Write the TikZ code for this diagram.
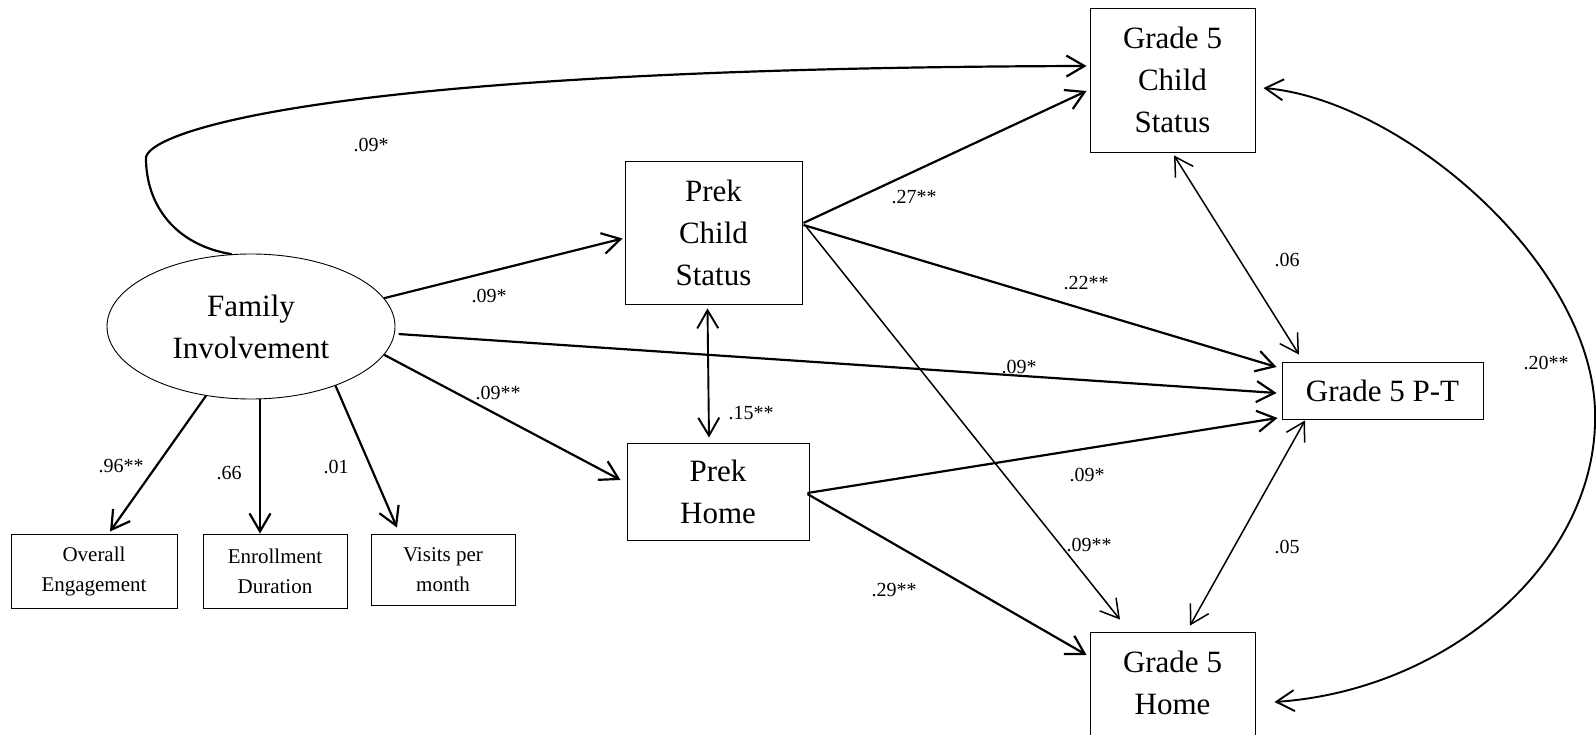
\documentclass[tikz,border=0pt]{standalone}
\usepackage{fontspec}
\setmainfont{Liberation Serif}
\usetikzlibrary{arrows.meta,shapes.geometric,calc}
\begin{document}
\begin{tikzpicture}[x=1pt,y=-1pt,
  >={Straight Barb[length=18pt,width=21pt]},
  big/.style={draw,line width=0.9pt,inner sep=0pt,align=center,font=\fontsize{31}{42}\selectfont},
  small/.style={draw,line width=0.9pt,inner sep=0pt,align=center,font=\fontsize{21}{30}\selectfont},
  coef/.style={inner sep=0pt,font=\fontsize{20}{24}\selectfont},
  arr/.style={line width=2.2pt,->},
  midarr/.style={line width=1.9pt},
  thinarr/.style={line width=1.5pt}]
\path[use as bounding box,clip] (0,0) rectangle (1596,735);

% nodes
\node[ellipse,draw,line width=0.9pt,minimum width=288pt,minimum height=145pt,inner sep=0pt,align=center,font=\fontsize{31}{42}\selectfont] (fi) at (251,326.5) {Family\\Involvement};
\node[big,minimum width=177pt,minimum height=143pt] (pcs) at (713.5,232.5) {Prek\\Child\\Status};
\node[big,minimum width=182pt,minimum height=97pt] (ph) at (718,491.5) {Prek\\Home};
\node[big,minimum width=165pt,minimum height=144pt] (g5cs) at (1172.5,80) {Grade 5\\Child\\Status};
\node[big,minimum width=201pt,minimum height=57pt] (pt) at (1382.5,390.5) {Grade 5 P-T};
\node[big,minimum width=165pt,minimum height=144pt] (g5h) at (1172.5,704) {Grade 5\\Home\\\mbox{}};
\node[small,minimum width=166pt,minimum height=74pt] (oe) at (94,571) {Overall\\Engagement};
\node[small,minimum width=144pt,minimum height=74pt] (ed) at (275,571) {Enrollment\\Duration};
\node[small,minimum width=144pt,minimum height=71pt] (vpm) at (443,569.5) {Visits per\\month};

% connectors from Family Involvement
\coordinate (bend) at (146,158);
\draw[arr] (fi.105) .. controls (175,245) and (146,205) .. (bend) .. controls (146,135) and (300,68) .. ($(g5cs.west)+(-3,-14)$);
\draw[arr] (fi.12.6) -- ($(pcs.west)+(-2,6)$);
\draw[arr] ($(fi.-3)+(4,0)$) -- ($(pt.west)+(-5,2.5)$);
\draw[arr] (fi.-12.2) -- ($(ph.west)+(-6,-11.5)$);
\draw[arr] (fi.237) -- ($(oe.north)+(16,-2)$);
\draw[arr] ($(fi.south)+(9,0)$) -- ($(ed.north)+(-15,0)$);
\draw[arr] (fi.-35.8) -- ($(vpm.north)+(-46,-6)$);

% prek connectors
\draw[midarr,<->] ($(pcs.south)+(-6,4)$) -- ($(ph.north)+(-9,-5)$);
\draw[arr] ($(pcs.east)+(1,-9.5)$) -- ($(g5cs.west)+(-3,11)$);
\draw[arr] ($(pcs.east)+(1,-7.5)$) -- ($(pt.west)+(-5,-23.5)$);
\draw[thinarr,->] ($(pcs.east)+(4,-5.5)$) -- ($(g5h.north)+(-52.5,-12)$);
\draw[arr] ($(ph.east)+(-2,1.5)$) -- ($(pt.west)+(-4,27.5)$);
\draw[arr] ($(ph.east)+(-2,2.5)$) -- ($(g5h.west)+(-3,-49)$);

% grade 5 covariances
\draw[thinarr,<->] ($(g5cs.south)+(1.5,3)$) -- ($(pt.north)+(-83.5,-7)$);
\draw[thinarr,<->] ($(pt.south)+(-77.5,1)$) -- ($(g5h.north)+(17.5,-6)$);
\draw[midarr,<->] ($(g5cs.east)+(8,8)$) .. controls (1400,100) and (1590,260) .. (1595,410) .. controls (1600,560) and (1450,690) .. ($(g5h.east)+(19,-2)$);

% coefficients
\node[coef] (c1) at (371,145) {.09*};
\node[coef] (c2) at (489,296) {.09*};
\node[coef] (c3) at (498,393) {.09**};
\node[coef] (c4) at (121,466) {.96**};
\node[coef] (c5) at (229,473) {.66};
\node[coef] (c6) at (336,467) {.01};
\node[coef] (c7) at (751,413) {.15**};
\node[coef] (c8) at (914,197) {.27**};
\node[coef] (c9) at (1086,283) {.22**};
\node[coef] (c10) at (1287,260) {.06};
\node[coef] (c11) at (1019,367) {.09*};
\node[coef] (c12) at (1546,363) {.20**};
\node[coef] (c13) at (1087,475) {.09*};
\node[coef] (c14) at (1089,545) {.09**};
\node[coef] (c15) at (1287,547) {.05};
\node[coef] (c16) at (894,590) {.29**};
\end{tikzpicture}
\end{document}
